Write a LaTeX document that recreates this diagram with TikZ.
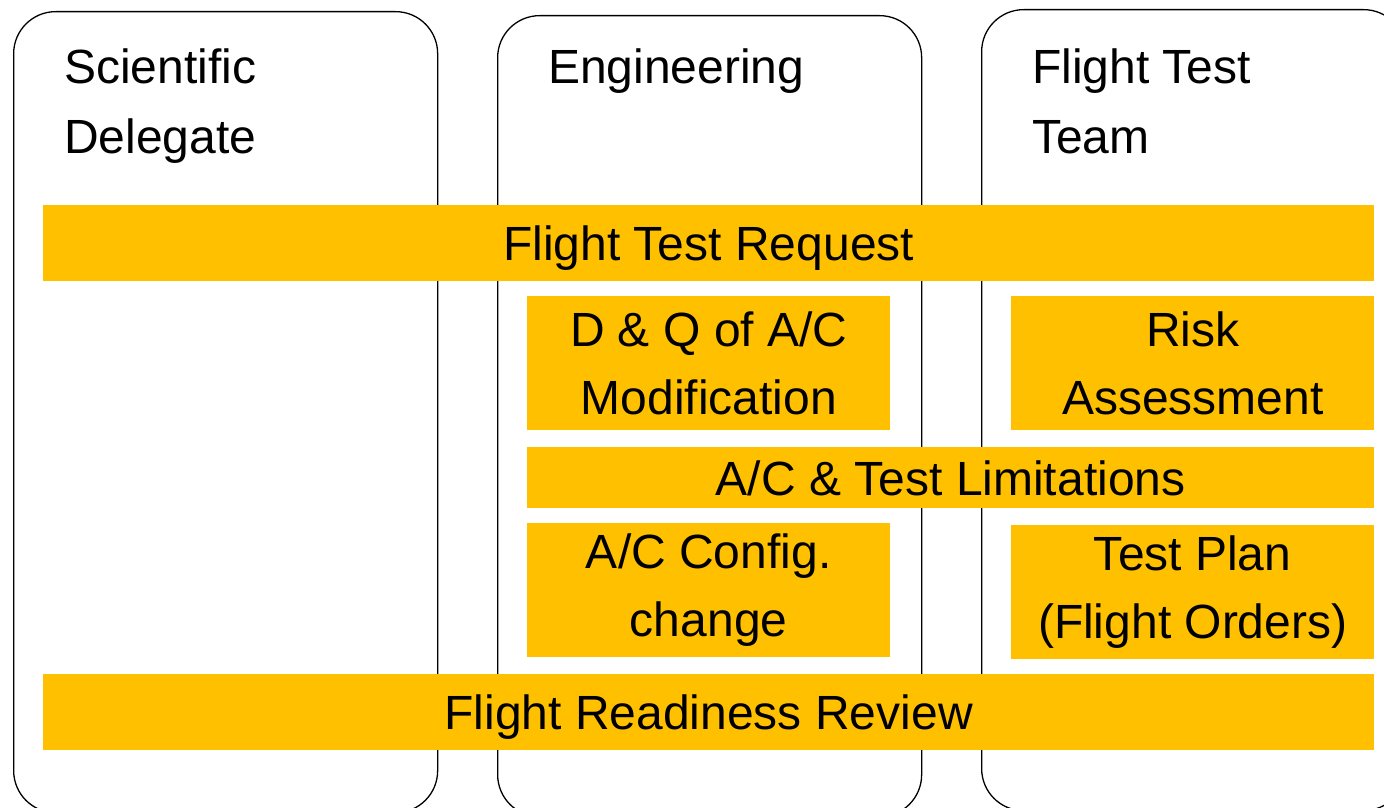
\documentclass[tikz,border=0pt]{standalone}
\usepackage{fontspec}
\setmainfont{Liberation Sans}
\definecolor{barcol}{HTML}{FFC000}
\begin{document}
\begin{tikzpicture}[x=1pt,y=-1pt,
  lane/.style={draw=black, line width=1.3pt, rounded corners=42pt, anchor=north west, inner sep=0pt, minimum width=424pt, minimum height=801pt},
  bar/.style={fill=barcol, draw=none, anchor=north west, inner sep=0pt, align=center, font=\fontsize{48}{68}\selectfont},
  onebar/.style={bar, text depth=0pt},
  head/.style={anchor=north west, inner sep=0pt, align=left, font=\fontsize{48}{70}\selectfont}]
\useasboundingbox (0,0) rectangle (1384,808);
\clip (0,0) rectangle (1384,808);
% lanes
\node[lane] (sci) at (13,11) {};
\node[lane] (eng) at (497,15) {};
\node[lane] (ftt) at (981,9) {};
% lane titles
\node[head] (sciT) at (64,49) {Scientific\\Delegate};
\node[head] (engT) at (548,49) {Engineering};
\node[head] (fttT) at (1032,49) {Flight Test\\Team};
% bars
\node[onebar, minimum width=1331pt, minimum height=76pt] (ftr) at (43,205) {Flight Test Request};
\node[bar, minimum width=363pt, minimum height=134pt] (dq) at (527,296) {D \& Q of A/C\\Modification};
\node[bar, minimum width=363pt, minimum height=134pt] (risk) at (1011,296) {Risk\\Assessment};
\node[onebar, minimum width=847pt, minimum height=61pt] (lim) at (527,447) {A/C \& Test Limitations};
\node[bar, minimum width=363pt, minimum height=134pt] (cfg) at (527,523) {A/C Config.\\change};
\node[bar, minimum width=363pt, minimum height=134pt] (plan) at (1011,525) {Test Plan\\(Flight Orders)};
\node[onebar, minimum width=1331pt, minimum height=76pt] (frr) at (43,674) {Flight Readiness Review};
\end{tikzpicture}
\end{document}
